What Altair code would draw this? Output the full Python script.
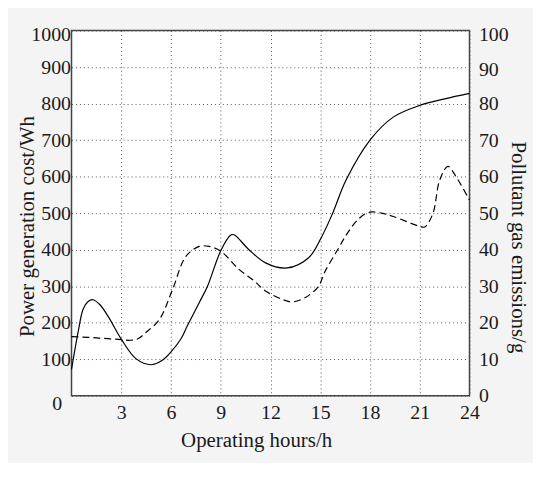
import altair as alt
import pandas as pd

# Power generation cost (Wh), left axis
hours_cost = [0, 0.4, 0.7, 1.0, 1.3, 1.7, 2.2, 3.0, 3.9, 4.8, 5.5, 6.0, 6.6, 7.0, 7.7, 8.2,
              9.0, 9.6, 9.8, 10.7, 11.7, 13.0, 14.3, 15.05, 15.75, 16.55, 18.0, 19.4,
              21.0, 22.5, 24.0]
cost = [72, 175, 237, 258, 263, 250, 218, 155, 101, 85, 98, 120, 156, 193, 255, 300,
        397, 440, 441, 400, 364, 350, 378, 432, 500, 590, 700, 763,
        795, 813, 828]

# Pollutant gas emissions (g), right axis
hours_emis = [0, 1.0, 2.0, 3.0, 3.5, 4.0, 4.5, 5.3, 6.1, 6.9, 7.7, 8.3, 9.0,
              10.1, 11.0, 11.7, 12.7, 13.3, 14.1, 14.9, 15.25, 16.05, 16.65, 17.35,
              18.0, 18.7, 19.4, 21.0, 21.3, 21.8, 22.2, 22.7, 23.2, 24.0]
emis = [16.2, 16.0, 15.7, 15.4, 15.2, 15.6, 17.4, 20.9, 29.2, 38.2, 40.9, 40.9, 39.6,
        34.6, 31.5, 28.7, 26.4, 25.7, 26.9, 30.0, 33.7, 40.0, 44.6, 48.6,
        50.3, 50.0, 49.1, 46.4, 46.2, 50.0, 59.0, 62.8, 59.9, 53.6]

x_ticks = [3, 6, 9, 12, 15, 18, 21, 24]
left_ticks = [0, 100, 200, 300, 400, 500, 600, 700, 800, 900, 1000]
right_ticks = [0, 10, 20, 30, 40, 50, 60, 70, 80, 90, 100]

cost_df = pd.DataFrame({"h": hours_cost, "cost": cost})
emis_df = pd.DataFrame({"h": hours_emis, "emis": emis})

FONT = "Liberation Serif"
TXT = "#1a1a1a"
LFS = 20
TFS = 21

x_enc = alt.X(
    "h:Q",
    scale=alt.Scale(domain=[0, 24], nice=False, zero=False),
    axis=alt.Axis(
        values=x_ticks, title="Operating hours/h", grid=True,
        gridColor="#555", gridDash=[1, 3], gridWidth=1, gridOpacity=1,
        ticks=False, tickSize=0, domain=False, format="d",
        labelFont=FONT, labelFontSize=LFS, labelColor=TXT,
        labelBaseline="alphabetic", labelPadding=23, labelAlign="center",
        titleFont=FONT, titleFontSize=TFS, titleFontWeight="normal", titleColor=TXT,
        titleX=186, titleY=51, titleBaseline="alphabetic", titleAlign="center",
    ),
)

cost_line = alt.Chart(cost_df).mark_line(
    color="black", strokeWidth=1.2, interpolate="catmull-rom"
).encode(
    x=x_enc,
    y=alt.Y(
        "cost:Q",
        scale=alt.Scale(domain=[0, 1000], nice=False),
        axis=alt.Axis(
            values=left_ticks, title="Power generation cost/Wh", orient="left",
            grid=True, gridColor="#555", gridDash=[1, 3], gridWidth=1, gridOpacity=1,
            ticks=False, tickSize=0, domain=False, format="d",
            labelFont=FONT, labelFontSize=LFS, labelColor=TXT,
            labelAlign="right", labelBaseline="middle",
            labelPadding={"condition": {"test": "datum.value == 0", "value": 10}, "value": 1},
            labelOffset={"condition": [
                {"test": "datum.value == 0", "value": 8},
                {"test": "datum.value == 1000", "value": 4},
            ], "value": 0},
            titleFont=FONT, titleFontSize=TFS, titleFontWeight="normal", titleColor=TXT,
            titleAngle=270, titleX=-44, titleY=197, titleBaseline="middle", titleAlign="center",
        ),
    ),
)

emis_line = alt.Chart(emis_df).mark_line(
    color="black", strokeWidth=1.2, strokeDash=[7, 4], interpolate="catmull-rom"
).encode(
    x=x_enc,
    y=alt.Y(
        "emis:Q",
        scale=alt.Scale(domain=[0, 100], nice=False),
        axis=alt.Axis(
            values=right_ticks, title="Pollutant gas emissions/g", orient="right",
            grid=False, ticks=False, tickSize=0, domain=False, format="d",
            labelFont=FONT, labelFontSize=LFS, labelColor=TXT,
            labelAlign="left", labelBaseline="middle", labelPadding=9,
            labelOffset={"condition": [
                {"test": "datum.value == 100", "value": 4},
                {"test": "datum.value == 90", "value": 2},
            ], "value": 0},
            titleFont=FONT, titleFontSize=TFS, titleFontWeight="normal", titleColor=TXT,
            titleAngle=90, titleX=48, titleY=218, titleBaseline="middle", titleAlign="center",
        ),
    ),
)

chart = alt.layer(cost_line, emis_line).resolve_scale(y="independent").properties(
    width=401,
    height=368,
    padding={"left": 64, "top": 21, "right": 64, "bottom": 66},
    autosize=alt.AutoSizeParams(type="none"),
    background="#f4f4f4",
).configure_view(fill="white", stroke="#444", strokeWidth=1.5)

chart.save("out.html", embed_options={"renderer": "svg", "actions": False})
